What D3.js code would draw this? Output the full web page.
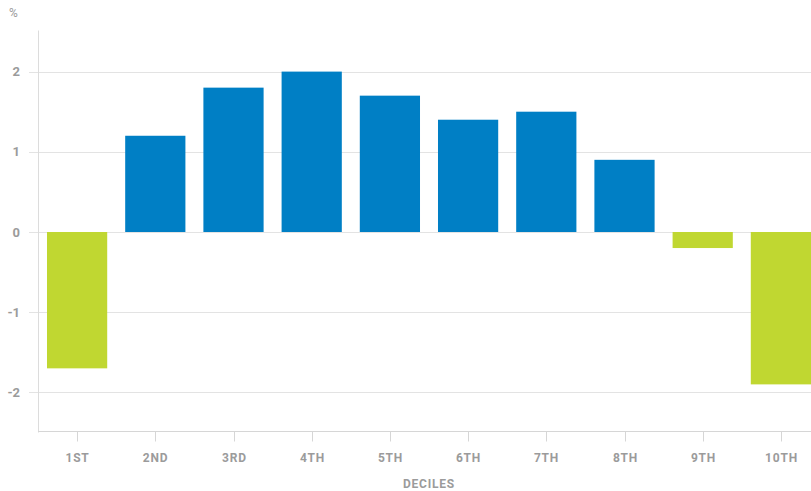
<!DOCTYPE html>
<html>
<head>
<meta charset="utf-8">
<script src="https://cdn.jsdelivr.net/npm/d3@7"></script>
<style>
  body { margin: 0; background: #fff; overflow: hidden; }
  text { font-family: Roboto, "DejaVu Sans", sans-serif; font-weight: bold; fill: #9b9b9b; }
</style>
</head>
<body>
<svg id="chart" width="811" height="491"></svg>
<script>
// deciles and the % change for each
var deciles = ['1ST', '2ND', '3RD', '4TH', '5TH', '6TH', '7TH', '8TH', '9TH', '10TH'];
var values = [-1.7, 1.2, 1.8, 2.0, 1.7, 1.4, 1.5, 0.9, -0.2, -1.9];
var yTicks = [-2, -1, 0, 1, 2];

var svg = d3.select('#chart');
// note: "top" is reserved on window, so use plot* names
var plotLeft = 38, plotRight = 820, plotTop = 31.5, plotBottom = 432.5;

var x = d3.scaleBand()
    .domain(deciles)
    .range([plotLeft, plotRight])
    .paddingInner(0.23)
    .paddingOuter(0.115);

var y = d3.scaleLinear()
    .domain([-2.5, 2.5])
    .range([plotBottom, plotTop]);

// grid lines
svg.append('g')
    .selectAll('line')
    .data(yTicks)
    .enter().append('line')
    .attr('x1', plotLeft - 9)
    .attr('x2', 811)
    .attr('y1', function(d){ return Math.round(y(d)) + 0.5; })
    .attr('y2', function(d){ return Math.round(y(d)) + 0.5; })
    .attr('stroke', '#e3e3e3')
    .attr('stroke-width', 1.2);

// y labels
svg.append('g')
    .selectAll('text')
    .data(yTicks)
    .enter().append('text')
    .attr('x', 20)
    .attr('y', function(d){ return y(d) + 4.5; })
    .attr('text-anchor', 'end')
    .style('font-size', '13px')
    .text(function(d){ return d < 0 ? '-' + Math.abs(d) : d; });

svg.append('text')
    .attr('x', 9)
    .attr('y', 17)
    .style('font-size', '12px')
    .style('font-weight', 'normal')
    .text('%');

// bars
svg.append('g')
    .selectAll('rect')
    .data(values)
    .enter().append('rect')
    .attr('x', function(d, i){ return x(deciles[i]); })
    .attr('width', x.bandwidth())
    .attr('y', function(d){ return y(Math.max(0, d)); })
    .attr('height', function(d){ return Math.abs(y(d) - y(0)); })
    .attr('fill', function(d){ return d >= 0 ? '#007fc5' : '#c0d731'; });

// axis lines
svg.append('line')
    .attr('x1', plotLeft + 0.5).attr('x2', plotLeft + 0.5)
    .attr('y1', plotTop - 1).attr('y2', plotBottom)
    .attr('stroke', '#dcdcdc');
svg.append('line')
    .attr('x1', plotLeft).attr('x2', 811)
    .attr('y1', plotBottom - 1).attr('y2', plotBottom - 1)
    .attr('stroke', '#d6d6d6');

// x ticks + labels
var xg = svg.append('g')
    .selectAll('g')
    .data(deciles)
    .enter().append('g')
    .attr('transform', function(d){ return 'translate(' + (Math.round(x(d) + x.bandwidth() / 2) + 0.5) + ',0)'; });
xg.append('line')
    .attr('y1', plotBottom - 1).attr('y2', plotBottom + 9)
    .attr('stroke', '#d6d6d6');
xg.append('text')
    .attr('y', 462)
    .attr('text-anchor', 'middle')
    .style('font-size', '12px')
    .style('letter-spacing', '0.8px')
    .text(function(d){ return d; });

svg.append('text')
    .attr('x', (plotLeft + plotRight) / 2)
    .attr('y', 488)
    .attr('text-anchor', 'middle')
    .style('font-size', '12px')
    .style('letter-spacing', '0.8px')
    .text('DECILES');
</script>
</body>
</html>
